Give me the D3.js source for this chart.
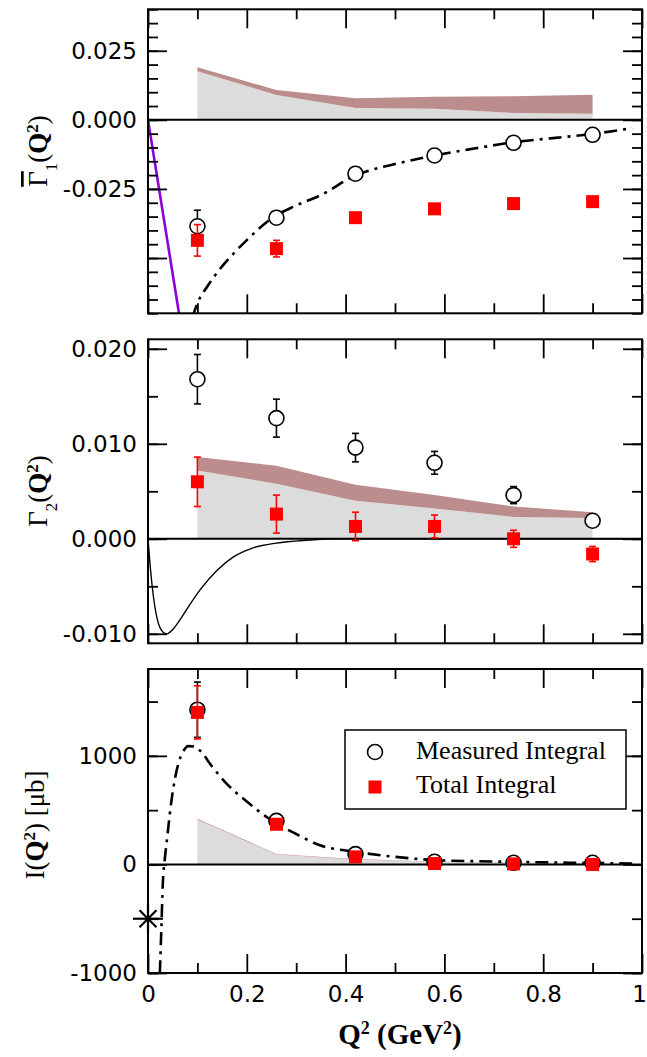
<!DOCTYPE html>
<html>
<head>
<meta charset="utf-8">
<script src="https://cdn.jsdelivr.net/npm/d3@7"></script>
<style>
  body { margin: 0; background: #fff; }
</style>
</head>
<body>
<div id="chart"></div>
<script>
// three stacked panels, shared Q^2 axis

const W = 647, H = 1057;
const left = 148, plotW = 494, plotH = 304;
const panelTops = [9.3, 339.3, 669];
const serif = "'Liberation Serif', 'Times New Roman', serif";

// ---- data ----
const q2 = [0.1, 0.26, 0.42, 0.58, 0.74, 0.9];

// panel 1: Gamma_1 bar
const g1Measured = [-0.0385, -0.0354, -0.0195, -0.0129, -0.0083, -0.0054];
const g1MeasuredErr = [0.0058, 0.0020, 0, 0, 0, 0];
const g1Total = [-0.0436, -0.0466, -0.0354, -0.0322, -0.0303, -0.0296];
const g1TotalErr = [0.0057, 0.0030, 0, 0, 0, 0];
const g1BandLow = [0.0176, 0.0090, 0.0043, 0.0040, 0.0025, 0.0022];
const g1BandHigh = [0.0190, 0.0108, 0.0078, 0.0084, 0.0085, 0.0091];
const g1Slope = [[0, 0], [0.07, -0.0781]];
const g1Curve = [[0.09, -0.0715], [0.1, -0.0664], [0.12, -0.0603], [0.15, -0.0530], [0.173, -0.0484],
  [0.2, -0.0435], [0.254, -0.0352], [0.3, -0.0310], [0.35, -0.0272], [0.42, -0.0201], [0.5, -0.0160],
  [0.58, -0.0129], [0.66, -0.0104], [0.74, -0.0081], [0.82, -0.0066], [0.9, -0.0051], [0.98, -0.0030]];
const g1Ticks = [0.025, 0, -0.025];

// panel 2: Gamma_2
const g2Measured = [0.0168, 0.0127, 0.0096, 0.0080, 0.0046, 0.0019];
const g2MeasuredErr = [0.0026, 0.0020, 0.0015, 0.0012, 0.0009, 0];
const g2Total = [0.0060, 0.0026, 0.0013, 0.0013, 0.0000, -0.0016];
const g2TotalErr = [0.0026, 0.0020, 0.0015, 0.0012, 0.0009, 0.0008];
const g2BandLow = [0.0072, 0.0058, 0.0040, 0.0032, 0.0023, 0.0022];
const g2BandHigh = [0.0086, 0.0077, 0.0057, 0.0046, 0.0034, 0.0028];
const g2Curve = [[0, 0], [0.004, -0.0026], [0.011, -0.0061], [0.021, -0.0089], [0.03, -0.0098],
  [0.0375, -0.0100], [0.051, -0.0095], [0.065, -0.0085], [0.085, -0.0069], [0.105, -0.0054],
  [0.14, -0.0033], [0.173, -0.0019], [0.21, -0.0010], [0.26, -0.00045], [0.32, -0.00015], [0.4, 0], [1, 0]];
const g2Ticks = [0.02, 0.01, 0, -0.01];

// panel 3: I(Q^2)
const iMeasured = [1425, 401, 95, 24, 15, 15];
const iMeasuredErr = [255, 0, 0, 0, 0, 0];
const iTotal = [1400, 370, 70, 9, 5, 0];
const iTotalErr = [245, 0, 0, 0, 0, 0];
const iBandLow = [413, 92, 45, 25, 15, 10];
const iBandHigh = [420, 97, 49, 28, 17, 12];
const iCurve = [[0.024, -1000], [0.027, -600], [0.030, -175], [0.034, 50], [0.0375, 193], [0.0476, 591],
  [0.0614, 928], [0.07, 1030], [0.0816, 1090], [0.095, 1085], [0.105, 1050], [0.13, 900], [0.159, 745],
  [0.2, 580], [0.24, 437], [0.3, 280], [0.348, 177], [0.42, 116], [0.5, 70], [0.58, 40], [0.66, 30],
  [0.74, 24], [0.82, 18], [0.9, 13], [0.98, 9]];
const iGdh = [[0, -500]];
const iTicks = [1000, 0, -1000];

const xTicks = [0, 0.2, 0.4, 0.6, 0.8, 1];
const legendLabels = ["Measured Integral", "Total Integral"];

// ---- drawing ----
const svg = d3.select("#chart").append("svg")
  .attr("width", W)
  .attr("height", H);

const x = d3.scaleLinear().domain([0, 1]).range([left, left + plotW]);
const dashDot = "13,6,3,6";
const brown = "#bb8d8d", grey = "#dcdcdc", red = "#ff0000";

function panel(i, domain, majorStep, minorStep, labels, fmt) {
  const top = panelTops[i];
  const y = d3.scaleLinear().domain(domain).range([top + plotH, top]);
  const g = svg.append("g");
  const clipId = "clip" + i;
  svg.append("clipPath").attr("id", clipId)
    .append("rect").attr("x", left).attr("y", top).attr("width", plotW).attr("height", plotH);
  const inner = g.append("g").attr("clip-path", `url(#${clipId})`);

  const eps = 1e-9;
  const majors = d3.range(Math.ceil(domain[0] / majorStep - eps), Math.floor(domain[1] / majorStep + eps) + 1)
    .map(k => k * majorStep);
  const minors = d3.range(Math.ceil(domain[0] / minorStep - eps), Math.floor(domain[1] / minorStep + eps) + 1)
    .map(k => k * minorStep);
  const labelSet = labels.map(v => fmt(v));
  const yFmt = v => { const s = fmt(v); return labelSet.includes(s) ? s : ""; };

  return { y, g, inner, top, majors, minors, yFmt };
}

function drawFrame(p, withXLabels) {
  const { y, g, top, majors, minors, yFmt } = p;
  const bottom = top + plotH;
  const style = sel => {
    sel.select(".domain").remove();
    sel.selectAll("line").attr("stroke", "#000").attr("stroke-width", 1.8);
    sel.selectAll("text").attr("font-family", "DejaVu Sans").attr("font-size", 23).attr("fill", "#000");
  };
  // y axes
  g.append("g").attr("transform", `translate(${left},0)`)
    .call(d3.axisLeft(y).tickValues(minors).tickSize(-10).tickFormat("")).call(style);
  g.append("g").attr("transform", `translate(${left},0)`)
    .call(d3.axisLeft(y).tickValues(majors).tickSize(-19).tickPadding(11).tickFormat(yFmt)).call(style);
  g.append("g").attr("transform", `translate(${left + plotW},0)`)
    .call(d3.axisRight(y).tickValues(minors).tickSize(-10).tickFormat("")).call(style);
  g.append("g").attr("transform", `translate(${left + plotW},0)`)
    .call(d3.axisRight(y).tickValues(majors).tickSize(-19).tickFormat("")).call(style);
  // x axes
  const xMin = d3.range(1, 10, 2).map(k => k / 10);
  g.append("g").attr("transform", `translate(0,${top})`)
    .call(d3.axisTop(x).tickValues(xMin).tickSize(-10).tickFormat("")).call(style);
  g.append("g").attr("transform", `translate(0,${top})`)
    .call(d3.axisTop(x).tickValues(xTicks).tickSize(-19).tickFormat("")).call(style);
  g.append("g").attr("transform", `translate(0,${bottom})`)
    .call(d3.axisBottom(x).tickValues(xMin).tickSize(-10).tickFormat("")).call(style);
  const xb = g.append("g").attr("transform", `translate(0,${bottom})`)
    .call(d3.axisBottom(x).tickValues(xTicks).tickSize(-19).tickPadding(13)
      .tickFormat(withXLabels ? d3.format("") : "")).call(style);
  // the "1" sits right at the window edge
  xb.selectAll("text").filter(d => d === 1).attr("dx", -3);

  g.append("rect")
    .attr("x", left).attr("y", top).attr("width", plotW).attr("height", plotH)
    .attr("fill", "none").attr("stroke", "#000").attr("stroke-width", 2);
}

function drawBand(p, low, high) {
  const { y, inner } = p;
  const rows = q2.map((q, k) => ({ q, lo: low[k], hi: high[k] }));
  inner.append("path").datum(rows)
    .attr("fill", grey)
    .attr("d", d3.area().x(d => x(d.q)).y0(y(0)).y1(d => y(d.lo)));
  inner.append("path").datum(rows)
    .attr("fill", brown)
    .attr("d", d3.area().x(d => x(d.q)).y0(d => y(d.lo)).y1(d => y(d.hi)));
}

function drawZero(p) {
  p.inner.append("line")
    .attr("x1", left).attr("x2", left + plotW)
    .attr("y1", p.y(0)).attr("y2", p.y(0))
    .attr("stroke", "#000").attr("stroke-width", 2);
}

function drawCurve(p, pts, color, width, dash) {
  p.inner.append("path").datum(pts)
    .attr("fill", "none")
    .attr("stroke", color)
    .attr("stroke-width", width)
    .attr("stroke-dasharray", dash)
    .attr("d", d3.line().x(d => x(d[0])).y(d => p.y(d[1])).curve(d3.curveMonotoneX));
}

function drawPoints(p, vals, errs, kind) {
  const { y, g } = p;
  const color = kind === "circle" ? "#000" : red;
  const rows = q2.map((q, k) => ({ q, v: vals[k], e: errs[k] }));
  const withErr = rows.filter(d => d.e > 0);
  const eg = g.append("g").attr("stroke", color).attr("stroke-width", 1.6);
  eg.selectAll("line.bar").data(withErr).join("line")
    .attr("x1", d => x(d.q)).attr("x2", d => x(d.q))
    .attr("y1", d => y(d.v - d.e)).attr("y2", d => y(d.v + d.e));
  eg.selectAll("line.capHi").data(withErr).join("line")
    .attr("x1", d => x(d.q) - 3.5).attr("x2", d => x(d.q) + 3.5)
    .attr("y1", d => y(d.v + d.e)).attr("y2", d => y(d.v + d.e));
  eg.selectAll("line.capLo").data(withErr).join("line")
    .attr("x1", d => x(d.q) - 3.5).attr("x2", d => x(d.q) + 3.5)
    .attr("y1", d => y(d.v - d.e)).attr("y2", d => y(d.v - d.e));
  if (kind === "circle") {
    g.append("g").selectAll("circle").data(rows).join("circle")
      .attr("cx", d => x(d.q)).attr("cy", d => y(d.v)).attr("r", 7.5)
      .attr("fill", "#fff").attr("stroke", "#000").attr("stroke-width", 1.6);
  } else {
    g.append("g").selectAll("rect").data(rows).join("rect")
      .attr("x", d => x(d.q) - 6.5).attr("y", d => y(d.v) - 6.5)
      .attr("width", 13).attr("height", 13).attr("fill", red);
  }
}

function yTitle(cx, cy, parts) {
  const t = svg.append("text")
    .attr("transform", `translate(${cx},${cy}) rotate(-90)`)
    .attr("text-anchor", "middle")
    .attr("font-family", serif)
    .attr("font-size", 27)
    .attr("fill", "#000");
  parts.forEach(pt => {
    const s = t.append("tspan").text(pt.t);
    if (pt.b) s.attr("font-weight", "bold");
    if (pt.bar) s.style("text-decoration", "overline");
    if (pt.sub) s.attr("font-size", 17).attr("baseline-shift", "sub");
    if (pt.sup) s.attr("font-size", 17).attr("baseline-shift", "super");
  });
}

const fmt3 = v => d3.format(".3f")(v).replace("\u2212", "-");
const fmtInt = v => d3.format("d")(v).replace("\u2212", "-");

// panel 1
const p1 = panel(0, [-0.07, 0.04], 0.025, 0.005, g1Ticks, fmt3);
drawBand(p1, g1BandLow, g1BandHigh);
drawZero(p1);
drawCurve(p1, g1Slope, "#8a00d8", 2.6, null);
drawCurve(p1, g1Curve, "#000", 2.6, dashDot);
drawPoints(p1, g1Measured, g1MeasuredErr, "circle");
drawPoints(p1, g1Total, g1TotalErr, "square");
drawFrame(p1, false);

// panel 2
const p2 = panel(1, [-0.011, 0.021], 0.01, 0.005, g2Ticks, fmt3);
drawBand(p2, g2BandLow, g2BandHigh);
drawZero(p2);
drawCurve(p2, g2Curve, "#000", 1.4, null);
drawPoints(p2, g2Measured, g2MeasuredErr, "circle");
drawPoints(p2, g2Total, g2TotalErr, "square");
drawFrame(p2, false);

// panel 3
const p3 = panel(2, [-1000, 1800], 1000, 500, iTicks, fmtInt);
drawBand(p3, iBandLow, iBandHigh);
drawZero(p3);
drawCurve(p3, iCurve, "#000", 2.6, dashDot);
drawPoints(p3, iMeasured, iMeasuredErr, "circle");
drawPoints(p3, iTotal, iTotalErr, "square");
drawFrame(p3, true);

// GDH sum rule star at Q^2 = 0
const star = svg.append("g").attr("stroke", "#000").attr("stroke-width", 2.2);
iGdh.forEach(d => {
  const cx = x(d[0]), cy = p3.y(d[1]);
  [0, 45, 90, 135].forEach(a => {
    const r = a % 90 === 0 ? 15 : 12;
    const dx = r * Math.cos(a * Math.PI / 180), dy = r * Math.sin(a * Math.PI / 180);
    star.append("line").attr("x1", cx - dx).attr("y1", cy - dy).attr("x2", cx + dx).attr("y2", cy + dy);
  });
});

// legend
const lg = svg.append("g");
lg.append("rect")
  .attr("x", 345).attr("y", 730).attr("width", 281).attr("height", 79)
  .attr("fill", "#fff").attr("stroke", "#000").attr("stroke-width", 1.5);
lg.append("circle").attr("cx", 375).attr("cy", 752).attr("r", 7.5)
  .attr("fill", "#fff").attr("stroke", "#000").attr("stroke-width", 1.6);
lg.append("rect").attr("x", 368.5).attr("y", 780.5).attr("width", 13).attr("height", 13).attr("fill", red);
lg.selectAll("text").data(legendLabels).join("text")
  .attr("x", 416).attr("y", (d, k) => 758.5 + k * 34.5)
  .attr("font-family", serif).attr("font-size", 26)
  .text(d => d);

// axis titles
yTitle(47, 151, [{ t: "\u0393", bar: true }, { t: "1", sub: true }, { t: "(" }, { t: "Q", b: true }, { t: "2", b: true, sup: true }, { t: ")" }]);
yTitle(47, 491, [{ t: "\u0393" }, { t: "2", sub: true }, { t: "(" }, { t: "Q", b: true }, { t: "2", b: true, sup: true }, { t: ")" }]);
yTitle(44, 825, [{ t: "I(" }, { t: "Q", b: true }, { t: "2", b: true, sup: true }, { t: ") [\u03bcb]" }]);

const xt = svg.append("text")
  .attr("x", 400).attr("y", 1044)
  .attr("text-anchor", "middle")
  .attr("font-family", serif)
  .attr("font-weight", "bold")
  .attr("font-size", 29);
xt.append("tspan").text("Q");
xt.append("tspan").attr("font-size", 18).attr("baseline-shift", "super").text("2");
xt.append("tspan").text(" (GeV");
xt.append("tspan").attr("font-size", 18).attr("baseline-shift", "super").text("2");
xt.append("tspan").text(")");
</script>
</body>
</html>
